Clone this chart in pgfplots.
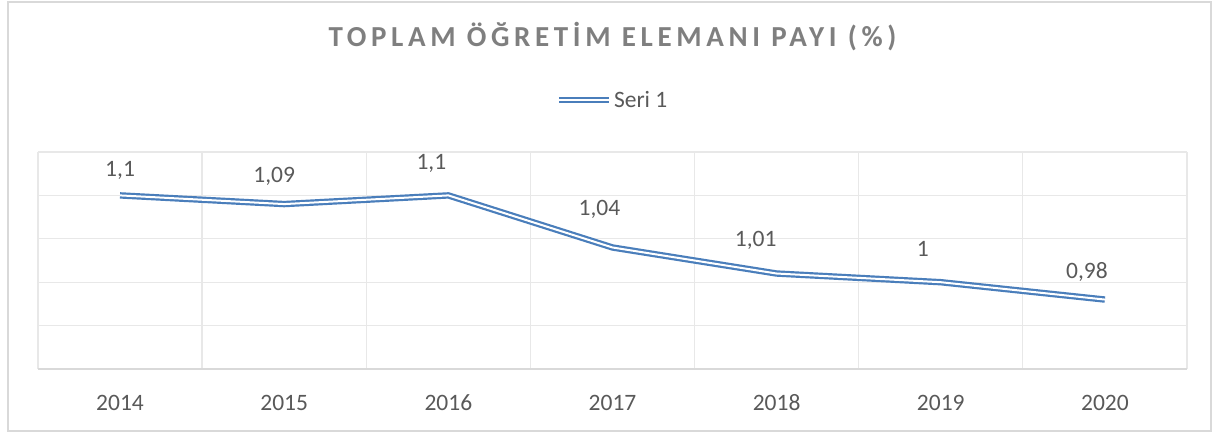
\documentclass[border=0pt]{standalone}
\usepackage{fontspec}
\setmainfont{Carlito}
\newfontfamily\titlefont[LetterSpace=16]{Carlito Bold}
\usepackage{pgfplots}
\usepackage{pgfplotstable}
\pgfplotsset{compat=1.18}
\definecolor{lineblue}{HTML}{4A7EBB}
\definecolor{gridgray}{HTML}{E8E8E8}
\definecolor{axisgray}{HTML}{D9D9D9}
\definecolor{txtgray}{HTML}{595959}
\definecolor{titlegray}{HTML}{7F7F7F}

\pgfplotstableread{
x y label dx dy
0 1.10 1,1   0  25
1 1.09 1,09 -10 28
2 1.10 1,1  -17 32
3 1.04 1,04 -13 38
4 1.01 1,01 -21 33
5 1.00 1    -18 33
6 0.98 0,98 -18 28
}\datatable

\begin{document}
\begin{tikzpicture}[x=1pt,y=1pt]
\useasboundingbox (-38,-63) rectangle (1177,369);
\draw[axisgray, line width=1.5pt] (-30,-62) rectangle (1173,367);
\begin{axis}[
  at={(0,0)}, anchor=south west,
  scale only axis, width=1149pt, height=217pt,
  xmin=-0.5, xmax=6.5, ymin=0.9, ymax=1.15,
  xtick={0,...,6}, xticklabels={2014,2015,2016,2017,2018,2019,2020},
  minor xtick={-0.5,0.5,...,6.5},
  xminorgrids, ymajorgrids,
  ytick={0.9,0.95,1,1.05,1.1,1.15}, yticklabels={,,,,,},
  major tick length=0pt, minor tick length=0pt,
  grid style={gridgray, line width=1.3pt},
  minor grid style={gridgray, line width=1.3pt},
  axis x line*=bottom, axis y line*=left,
  x axis line style={axisgray, line width=1.5pt, -},
  y axis line style={draw=none},
  /pgf/number format/assume math mode=true,
  ticklabel style={font=\fontsize{23.5}{28}\selectfont, text=txtgray},
  xticklabel style={anchor=center, yshift=-34pt},
  title={\titlefont TOPLAM ÖĞRETİM ELEMANI PAYI (\%)},
  title style={at={(0.5,1)}, anchor=center, yshift=109pt, font=\fontsize{29}{34}\selectfont, text=titlegray},
  legend style={at={(0.5,1)}, anchor=center, yshift=52pt, draw=none, fill=none,
    font=\fontsize{23.5}{28}\selectfont, text=txtgray},
  legend image code/.code={\draw[#1] (0pt,0pt) -- (50pt,0pt);},
  clip=false,
]
\addplot[lineblue, line width=2.2pt, double=white, double distance=2pt, line join=round, mark=none,
  nodes near coords, point meta=explicit symbolic,
  visualization depends on={\thisrow{dx} \as \dx},
  visualization depends on={\thisrow{dy} \as \dy},
  nodes near coords style={anchor=center, xshift=\dx pt, yshift=\dy pt,
    font=\fontsize{23.5}{28}\selectfont, text=txtgray}]
  table[x=x, y=y, meta=label] {\datatable};
\addlegendentry{Seri 1}
\end{axis}
\end{tikzpicture}
\end{document}
